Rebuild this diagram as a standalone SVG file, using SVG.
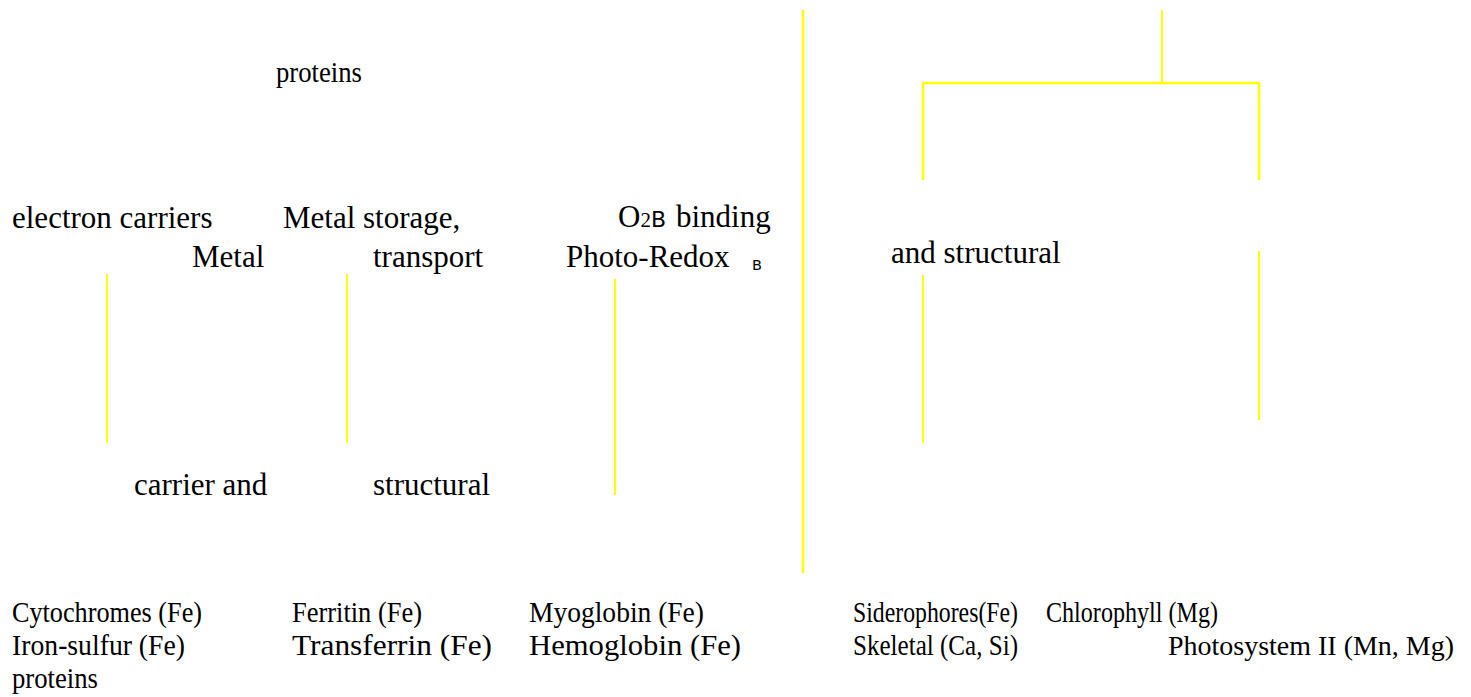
<svg xmlns="http://www.w3.org/2000/svg" width="1471" height="697" viewBox="0 0 1471 697">
<style>
.t{font-family:"Liberation Serif","Times New Roman",serif;font-size:31px;fill:#000}
.b{font-family:"Liberation Serif","Times New Roman",serif;font-size:30px;fill:#000}
.s{font-family:"DejaVu Sans",sans-serif;fill:#000}
.c{stroke:#FFFF00;stroke-width:2;fill:none}
</style>
<rect width="1471" height="697" fill="#fff"/>
<g id="connectors">
<line class="c" x1="803" y1="10" x2="803" y2="573" style="stroke-width:2.5"/>
<polyline class="c" points="1162,10 1162,83"/>
<polyline class="c" points="923,180 923,83 1259,83 1259,180" style="stroke-width:2.5"/>
<line class="c" x1="107" y1="274" x2="107" y2="443"/>
<line class="c" x1="347" y1="274" x2="347" y2="443"/>
<line class="c" x1="615" y1="279" x2="615" y2="495"/>
<line class="c" x1="923" y1="275" x2="923" y2="443"/>
<line class="c" x1="1259" y1="251" x2="1259" y2="420"/>
</g>
<g id="n-proteins-top"><text class="b" x="276" y="82" textLength="86" lengthAdjust="spacingAndGlyphs">proteins</text></g>
<g id="n-electron"><text class="t" x="12" y="228">electron carriers</text><text class="t" x="192" y="267">Metal</text></g>
<g id="n-storage"><text class="t" x="283" y="228">Metal storage,</text><text class="t" x="373" y="267">transport</text></g>
<g id="n-o2"><text class="t" x="618" y="227">O<tspan font-size="21">2</tspan><tspan class="s" font-size="22">B</tspan><tspan dx="10">binding</tspan></text><text class="t" x="566" y="267">Photo-Redox<tspan class="s" font-size="14.5" x="752" dy="3">B</tspan></text></g>
<g id="n-andstructural"><text class="t" x="891" y="263">and structural</text></g>
<g id="n-carrier"><text class="t" x="134" y="495">carrier and</text></g>
<g id="n-structural"><text class="t" x="373" y="495">structural</text></g>
<g id="n-col1"><text class="b" x="12" y="622" textLength="190" lengthAdjust="spacingAndGlyphs">Cytochromes (Fe)</text><text class="b" x="12" y="655" textLength="173" lengthAdjust="spacingAndGlyphs">Iron-sulfur (Fe)</text><text class="b" x="12" y="688" textLength="86" lengthAdjust="spacingAndGlyphs">proteins</text></g>
<g id="n-col2"><text class="b" x="292" y="622" textLength="130" lengthAdjust="spacingAndGlyphs">Ferritin (Fe)</text><text class="b" x="292" y="655" textLength="200" lengthAdjust="spacingAndGlyphs">Transferrin (Fe)</text></g>
<g id="n-col3"><text class="b" x="529" y="622" textLength="175" lengthAdjust="spacingAndGlyphs">Myoglobin (Fe)</text><text class="b" x="529" y="655" textLength="212" lengthAdjust="spacingAndGlyphs">Hemoglobin (Fe)</text></g>
<g id="n-col4"><text class="b" x="853" y="622" textLength="165" lengthAdjust="spacingAndGlyphs">Siderophores(Fe)</text><text class="b" x="853" y="655" textLength="165" lengthAdjust="spacingAndGlyphs">Skeletal (Ca, Si)</text></g>
<g id="n-col5"><text class="b" x="1046" y="622" textLength="172" lengthAdjust="spacingAndGlyphs">Chlorophyll (Mg)</text><text class="b" x="1168" y="655" font-size="28" style="font-size:28px" textLength="286" lengthAdjust="spacingAndGlyphs">Photosystem II (Mn, Mg)</text></g>
</svg>
